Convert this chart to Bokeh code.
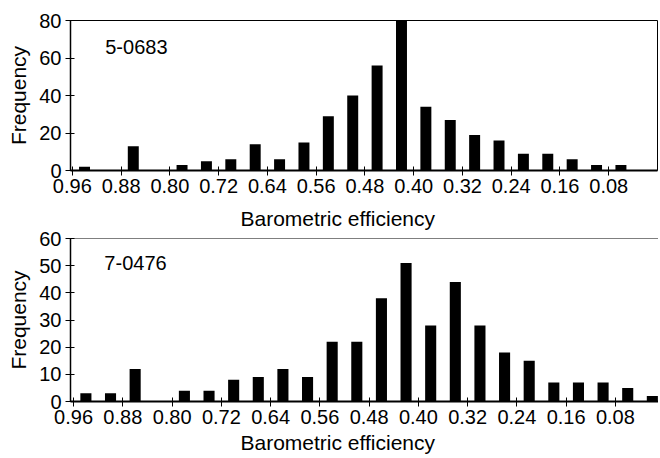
from bokeh.plotting import figure
from bokeh.models import Range1d, FixedTicker, Label, Title, Span, NumeralTickFormatter
from bokeh.layouts import column
from bokeh.embed import file_html
from bokeh.resources import INLINE

# ---- data ----
bin_centers = [0.94, 0.90, 0.86, 0.82, 0.78, 0.74, 0.70, 0.66, 0.62, 0.58, 0.54, 0.50,
               0.46, 0.42, 0.38, 0.34, 0.30, 0.26, 0.22, 0.18, 0.14, 0.10, 0.06, 0.02]
freq_5_0683 = [2, 0, 13, 0, 3, 5, 6, 14, 6, 15, 29, 40,
               56, 80, 34, 27, 19, 16, 9, 9, 6, 3, 3, 0]
freq_7_0476 = [3, 3, 12, 0, 4, 4, 8, 9, 12, 9, 22, 22,
               38, 51, 28, 44, 28, 18, 15, 7, 7, 7, 5, 2]
x_ticks = [0.96, 0.88, 0.80, 0.72, 0.64, 0.56, 0.48, 0.40, 0.32, 0.24, 0.16, 0.08]
y_ticks_top = [0, 20, 40, 60, 80]
y_ticks_bottom = [0, 10, 20, 30, 40, 50, 60]
well_top = "5-0683"
well_bottom = "7-0476"
x_label = "Barometric efficiency"
y_label = "Frequency"

FONT = "Liberation Sans"


def xlabel_title(standoff):
    return Title(text=x_label, align="left", offset=170, text_font=FONT,
                 text_font_size="21px", text_font_style="normal",
                 text_color="black", standoff=standoff)


def make_panel(values, yticks, ymax, xr, frame_w, frame_h, b_top, b_right, b_bottom, outline):
    p = figure(frame_width=frame_w, frame_height=frame_h, output_backend="svg",
               toolbar_location=None, x_range=xr, y_range=Range1d(0, ymax),
               min_border_left=70, min_border_right=b_right,
               min_border_top=b_top, min_border_bottom=b_bottom)
    p.vbar(x=bin_centers, top=values, width=0.018, fill_color="black", line_color=None)
    p.grid.visible = False
    p.background_fill_color = "white"
    p.border_fill_color = "white"
    if outline:
        p.outline_line_color = "black"
        p.outline_line_width = 1
    else:
        p.outline_line_color = None
        p.add_layout(Span(location=ymax, dimension="width", line_color="black", line_width=1.2))

    for ax in (p.xaxis[0], p.yaxis[0]):
        ax.major_label_text_font = FONT
        ax.major_label_text_font_size = "20px"
        ax.major_label_text_color = "black"
        ax.axis_line_color = "black"
        ax.major_tick_line_color = "black"
        ax.minor_tick_line_color = None
        ax.major_tick_out = 5
        ax.major_tick_in = 4

    p.xaxis.ticker = FixedTicker(ticks=x_ticks)
    p.xaxis.formatter = NumeralTickFormatter(format="0.00")
    p.xaxis.axis_line_width = 2
    p.xaxis.major_label_standoff = 3

    p.yaxis.ticker = FixedTicker(ticks=yticks)
    p.yaxis.axis_line_width = 1.5
    p.yaxis.major_label_standoff = 4
    p.yaxis.axis_label = y_label
    p.yaxis.axis_label_text_font = FONT
    p.yaxis.axis_label_text_font_size = "21px"
    p.yaxis.axis_label_text_font_style = "normal"
    p.yaxis.axis_label_text_color = "black"
    p.yaxis.axis_label_standoff = 6
    return p


# top panel: its x label is carried by the top border of the lower panel
p1 = make_panel(freq_5_0683, y_ticks_top, 80, Range1d(0.963, 0.0),
                587, 150, 20, 1, 0, True)
p1.add_layout(Label(x=0.906, y=66, text=well_top, text_font=FONT, text_font_size="20px",
                    text_baseline="middle", text_align="left", text_color="black"))

p2 = make_panel(freq_7_0476, y_ticks_bottom, 60, Range1d(0.965, 0.01),
                588, 163, 43, 0, 0, False)
p2.add_layout(xlabel_title(17), "above")
p2.add_layout(xlabel_title(5), "below")
p2.add_layout(Label(x=0.91, y=51, text=well_bottom, text_font=FONT, text_font_size="20px",
                    text_baseline="middle", text_align="left", text_color="black"))

layout = column(p1, p2, spacing=0)
open("out.html", "w").write(file_html(layout, INLINE))
